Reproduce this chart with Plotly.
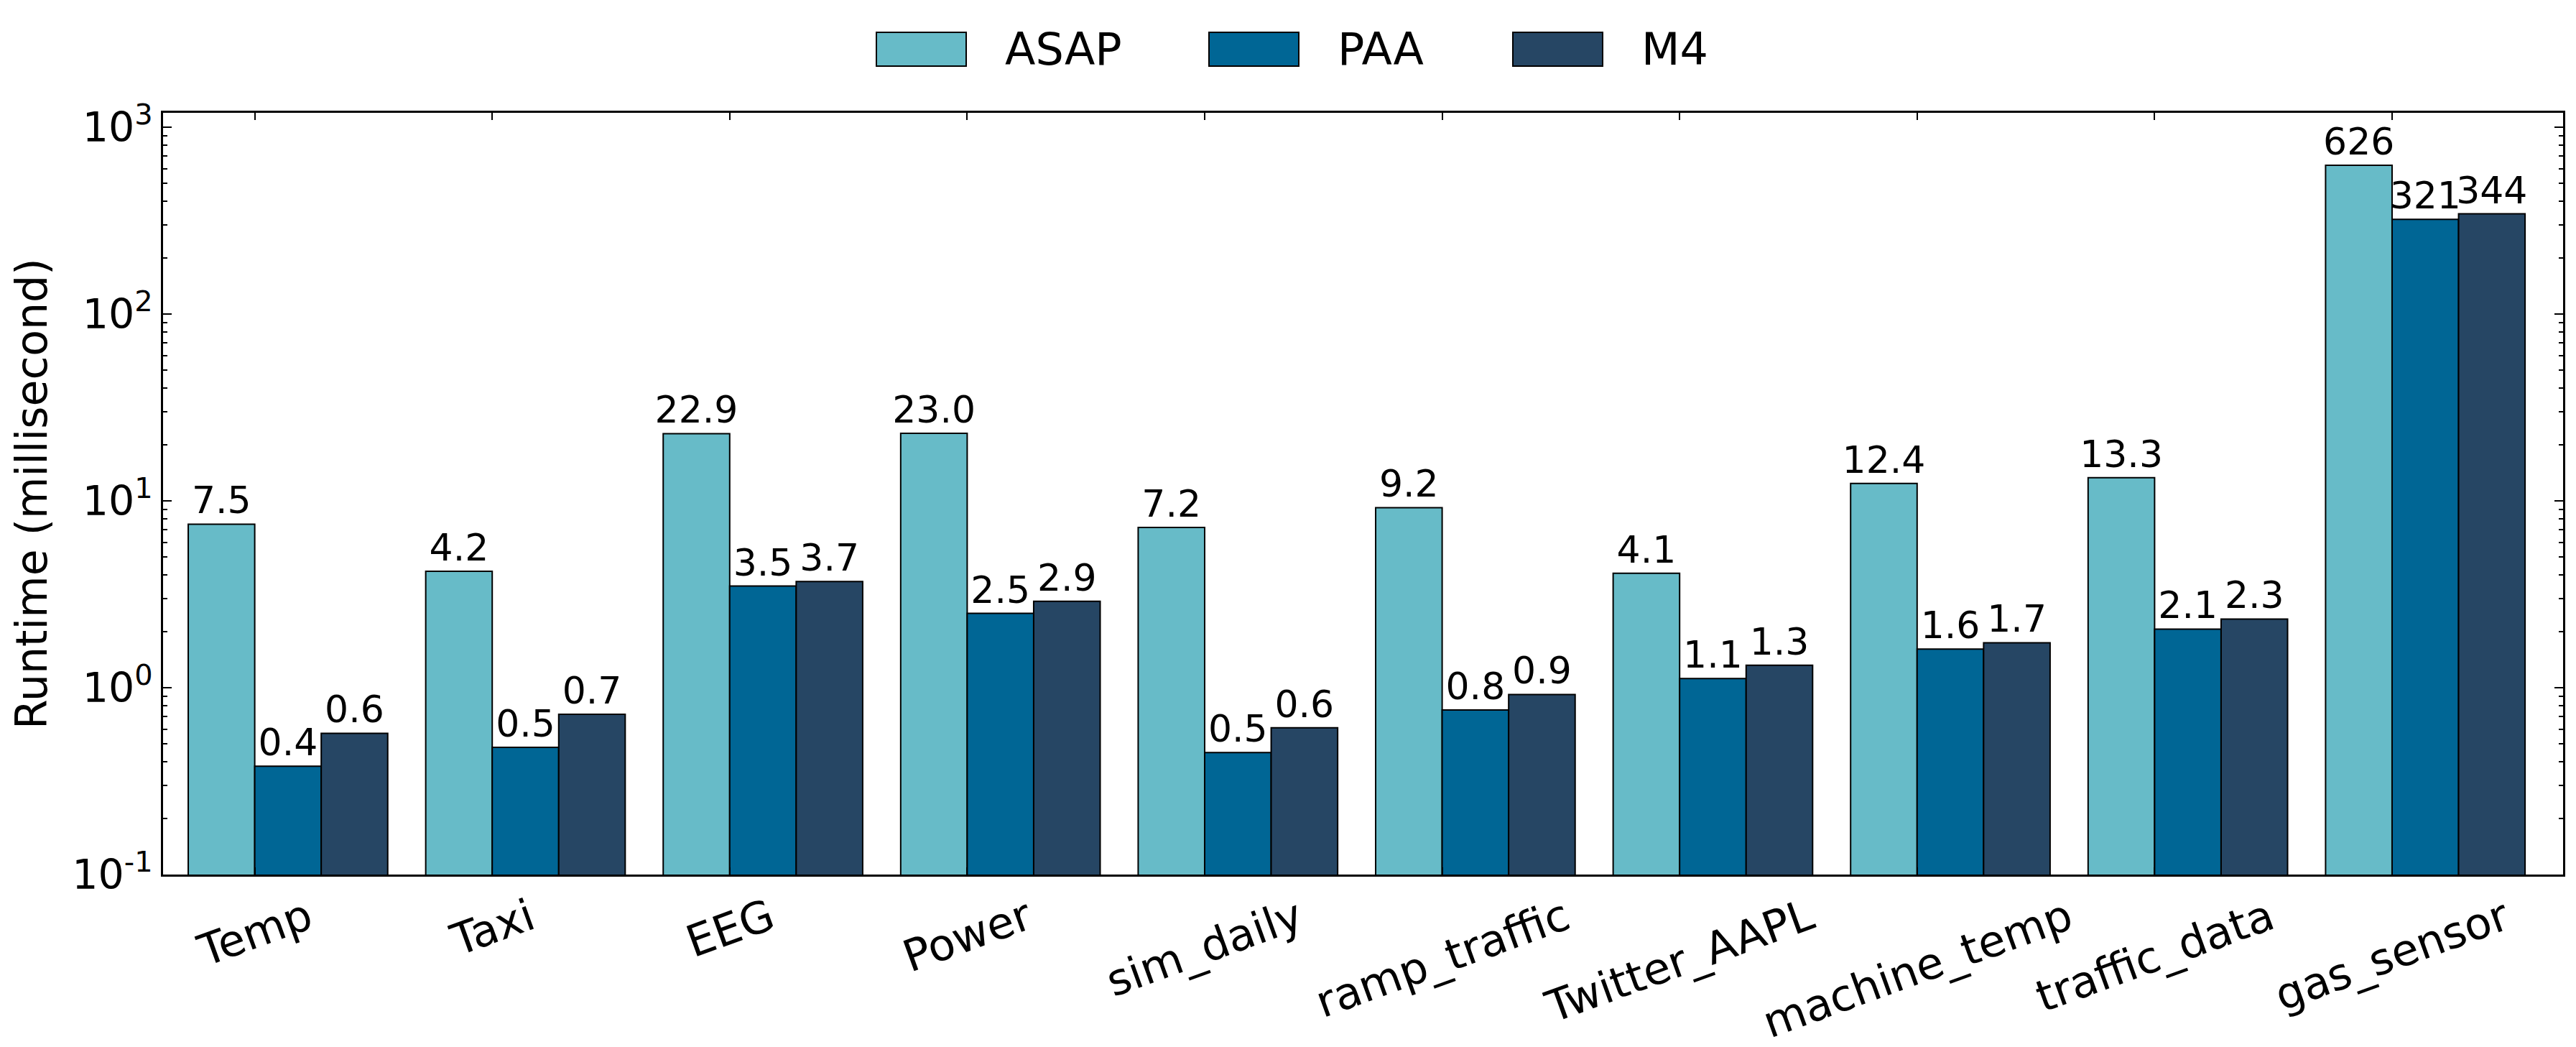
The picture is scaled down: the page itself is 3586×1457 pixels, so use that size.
import plotly.graph_objects as go

categories = ["Temp", "Taxi", "EEG", "Power", "sim_daily", "ramp_traffic",
              "Twitter_AAPL", "machine_temp", "traffic_data", "gas_sensor"]
series_names = ["ASAP", "PAA", "M4"]
asap = [7.5, 4.2, 22.9, 23.0, 7.2, 9.2, 4.1, 12.4, 13.3, 626]
paa = [0.38, 0.48, 3.5, 2.5, 0.45, 0.76, 1.12, 1.61, 2.06, 321]
m4 = [0.57, 0.72, 3.7, 2.9, 0.61, 0.92, 1.32, 1.74, 2.33, 344]
ytick_vals = [0.1, 1, 10, 100, 1000]
ytick_text = ["10<sup>-1</sup>", "10<sup>0</sup>", "10<sup>1</sup>", "10<sup>2</sup>", "10<sup>3</sup>"]
y_title = "Runtime (millisecond)"

colors = ["#67bbc8", "#006695", "#264664"]
FONT = "DejaVu Sans"

W, H = 3586, 1457
L, R, T, B = 227, 18, 157, 240
PW, PH = W - L - R, H - T - B


def fmt(v):
    return f"{v:.0f}" if v >= 100 else f"{v:.1f}"


xs = list(range(len(categories)))
fig = go.Figure()
for name, vals, col in zip(series_names, [asap, paa, m4], colors):
    fig.add_trace(go.Bar(
        x=xs, y=vals, name=name,
        marker=dict(color=col, line=dict(color="black", width=2)),
        text=[fmt(v) for v in vals], textposition="outside",
        textfont=dict(family=FONT, size=52, color="black"),
        constraintext="none", cliponaxis=False, showlegend=False,
    ))

# x labels (rotated, centred on the ticks)
tickpos = [i - 0.14 for i in xs]
annotations = []
for tp, c in zip(tickpos, categories):
    annotations.append(dict(x=tp, y=-0.016, xref="x", yref="paper", text=c,
                            showarrow=False, textangle=-20, xanchor="center", yanchor="top",
                            font=dict(family=FONT, size=61, color="black")))
# y title
annotations.append(dict(x=(44 - L) / PW, y=0.5, xref="paper", yref="paper", text=y_title,
                        showarrow=False, textangle=-90, xanchor="center", yanchor="middle",
                        font=dict(family=FONT, size=60, color="black")))

# custom legend
shapes = []
leg_box_px = [1220, 1683, 2106]
box_w, box_top, box_bot, text_gap = 125, 45, 92, 52
for name, col, bx in zip(series_names, colors, leg_box_px):
    shapes.append(dict(type="rect", xref="paper", yref="paper",
                       x0=(bx - L) / PW, x1=(bx + box_w - L) / PW,
                       y0=(H - B - box_bot) / PH, y1=(H - B - box_top) / PH,
                       fillcolor=col, line=dict(color="black", width=2)))
    annotations.append(dict(x=(bx + box_w + text_gap - L) / PW, y=(H - B - (box_top + box_bot) / 2) / PH,
                            xref="paper", yref="paper", text=name, showarrow=False,
                            xanchor="left", yanchor="middle",
                            font=dict(family=FONT, size=62, color="black")))

minor_vals = [k * 10 ** e for e in range(-1, 3) for k in range(2, 10)]

fig.update_layout(
    width=W, height=H,
    margin=dict(l=L, r=R, t=T, b=B, autoexpand=False),
    paper_bgcolor="white", plot_bgcolor="white",
    barmode="group", bargap=0.16, bargroupgap=0,
    font=dict(family=FONT, color="black"),
    annotations=annotations, shapes=shapes, showlegend=False,
    xaxis=dict(range=[-0.526, 9.58], tickmode="array", tickvals=tickpos,
               showticklabels=False, ticks="inside", ticklen=10, tickwidth=1.5, tickcolor="black",
               showline=True, linecolor="black", linewidth=3, mirror="ticks", showgrid=False, zeroline=False),
    yaxis=dict(type="log", range=[-1, 3.077], tickmode="array", tickvals=ytick_vals, ticktext=ytick_text,
               tickfont=dict(family=FONT, size=57, color="black"),
               ticks="inside", ticklen=12, tickwidth=1.5, tickcolor="black",
               minor=dict(tickmode="array", tickvals=minor_vals, ticks="inside", ticklen=6,
                          tickwidth=1.5, tickcolor="black", showgrid=False),
               showline=True, linecolor="black", linewidth=3, mirror="ticks", showgrid=False, zeroline=False),
)

fig.write_html("out.html")
